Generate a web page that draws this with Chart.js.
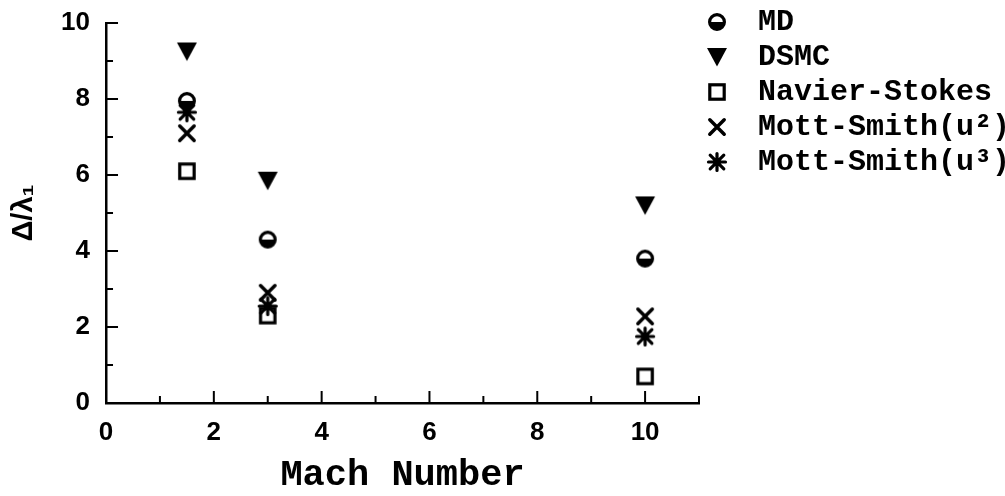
<!DOCTYPE html>
<html>
<head>
<meta charset="utf-8">
<script src="https://cdn.jsdelivr.net/npm/chart.js@4.4.1/dist/chart.umd.min.js"></script>
<style>
  html, body { margin: 0; padding: 0; background: #fff; }
  #wrap { width: 1005px; height: 496px; }
</style>
</head>
<body>
<div id="wrap"><canvas id="c"></canvas></div>
<script>
// Shock thickness versus Mach number for several methods
const machNumbers = [1.5, 3, 10];
const seriesNames = ['MD', 'DSMC', 'Navier-Stokes', 'Mott-Smith(u\u00B2)', 'Mott-Smith(u\u00B3)'];
const mdValues = [7.95, 4.3, 3.8];
const dsmcValues = [9.25, 5.85, 5.2];
const navierStokesValues = [6.1, 2.3, 0.7];
const mottSmithU2Values = [7.1, 2.9, 2.28];
const mottSmithU3Values = [7.65, 2.55, 1.75];

// Tick positions: labelled majors, unlabelled minors
const xMajorTicks = [0, 2, 4, 6, 8, 10];
const xMinorTicks = [1, 3, 5, 7, 9, 11];
const yMajorTicks = [0, 2, 4, 6, 8, 10];
const yMinorTicks = [1, 3, 5, 7, 9];

// Marker glyphs drawn on small canvases (shift moves the glyph off-centre)
function makeMarker(kind, shift) {
  const size = 26;
  const w = size + 2 * Math.abs(shift);
  const c = document.createElement('canvas');
  c.width = w; c.height = size;
  const g = c.getContext('2d');
  const cx = w / 2 + shift, cy = size / 2;
  g.strokeStyle = '#000'; g.fillStyle = '#000';
  if (kind === 'half') {
    const r = 7.4;
    g.beginPath(); g.arc(cx, cy, r, 0, 2 * Math.PI); g.fillStyle = '#fff'; g.fill();
    g.beginPath(); g.arc(cx, cy, r, 0, Math.PI); g.closePath(); g.fillStyle = '#000'; g.fill();
    g.lineWidth = 3.2; g.beginPath(); g.arc(cx, cy, r, 0, 2 * Math.PI); g.stroke();
  } else if (kind === 'tri') {
    g.beginPath();
    g.moveTo(cx - 10, cy - 9); g.lineTo(cx + 10, cy - 9); g.lineTo(cx, cy + 9.5);
    g.closePath(); g.fill();
  } else if (kind === 'square') {
    g.lineWidth = 3.2;
    g.strokeRect(cx - 7.2, cy - 7.2, 14.4, 14.4);
  } else if (kind === 'x') {
    g.lineWidth = 3.5; g.lineCap = 'round';
    g.beginPath();
    g.moveTo(cx - 7.2, cy - 7.2); g.lineTo(cx + 7.2, cy + 7.2);
    g.moveTo(cx + 7.2, cy - 7.2); g.lineTo(cx - 7.2, cy + 7.2);
    g.stroke();
  } else if (kind === 'star') {
    g.lineWidth = 3.2; g.lineCap = 'round';
    g.beginPath();
    g.moveTo(cx, cy - 8.5); g.lineTo(cx, cy + 8.5);
    g.moveTo(cx - 8.5, cy); g.lineTo(cx + 8.5, cy);
    g.moveTo(cx - 6.8, cy - 6.8); g.lineTo(cx + 6.8, cy + 6.8);
    g.moveTo(cx + 6.8, cy - 6.8); g.lineTo(cx - 6.8, cy + 6.8);
    g.stroke();
  }
  return c;
}

const markerKinds = ['half', 'tri', 'square', 'x', 'star'];
const plotMarkers = markerKinds.map(k => makeMarker(k, 0));
const legendMarkers = markerKinds.map(k => makeMarker(k, -6.5));
const seriesValues = [mdValues, dsmcValues, navierStokesValues, mottSmithU2Values, mottSmithU3Values];

const datasets = seriesNames.map((name, i) => ({
  label: name,
  data: machNumbers.map((m, j) => ({ x: m, y: seriesValues[i][j] })),
  pointStyle: plotMarkers[i],
  pointRadius: 9,
  pointHoverRadius: 9,
  showLine: false,
  borderColor: '#000',
  backgroundColor: '#000'
}));

// Inward tick marks on both axes, major longer than minor
const innerTicks = {
  id: 'innerTicks',
  beforeDatasetsDraw(chart) {
    const { ctx, chartArea, scales } = chart;
    const xs = scales.x, ys = scales.y;
    ctx.save();
    ctx.strokeStyle = '#000';
    ctx.lineWidth = 2;
    ctx.beginPath();
    const xMark = (vals, len) => vals.forEach(v => {
      const p = xs.getPixelForValue(v);
      ctx.moveTo(p, chartArea.bottom); ctx.lineTo(p, chartArea.bottom - len);
    });
    const yMark = (vals, len) => vals.forEach(v => {
      const p = ys.getPixelForValue(v);
      ctx.moveTo(chartArea.left, p); ctx.lineTo(chartArea.left + len, p);
    });
    xMark(xMajorTicks, 12); xMark(xMinorTicks, 7);
    yMark(yMajorTicks, 12); yMark(yMinorTicks, 7);
    ctx.stroke();
    ctx.restore();
  }
};

const tickFont = { family: 'Liberation Sans', size: 26, weight: 'bold' };

new Chart(document.getElementById('c'), {
  type: 'scatter',
  data: { datasets },
  plugins: [innerTicks],
  options: {
    responsive: true,
    maintainAspectRatio: false,
    animation: false,
    layout: { padding: { top: 2, left: 4, right: 0, bottom: 3 } },
    plugins: {
      tooltip: { enabled: false },
      legend: {
        position: 'right',
        align: 'start',
        maxWidth: 306,
        labels: {
          usePointStyle: true,
          pointStyleWidth: 39,
          padding: 5,
          color: '#000',
          font: { family: 'Liberation Mono', size: 30, weight: 'bold' },
          generateLabels(chart) {
            const items = Chart.defaults.plugins.legend.labels.generateLabels(chart);
            items.forEach((it, i) => { it.pointStyle = legendMarkers[i]; it.fontColor = '#000'; });
            return items;
          }
        }
      }
    },
    scales: {
      x: {
        type: 'linear',
        min: 0,
        max: 11,
        ticks: { stepSize: 2, includeBounds: false, padding: 15, color: '#000', font: Object.assign({}, tickFont, { lineHeight: 30 / 26 }) },
        grid: { display: false, drawTicks: false },
        border: { display: true, color: '#000', width: 2.5 },
        title: {
          display: true,
          text: 'Mach Number',
          color: '#000',
          font: { family: 'Liberation Mono', size: 37, weight: 'bold', lineHeight: 25 / 37 },
          padding: { top: 0, bottom: 5 }
        }
      },
      y: {
        type: 'linear',
        min: 0,
        max: 10,
        ticks: { stepSize: 2, padding: 16, color: '#000', font: Object.assign({}, tickFont, { lineHeight: 14 / 26 }) },
        grid: { display: false, drawTicks: false },
        border: { display: true, color: '#000', width: 2.5 },
        title: {
          display: true,
          text: '\u0394/\u03BB\u2081',
          color: '#000',
          font: { family: 'Liberation Sans', size: 29, weight: 'bold' },
          padding: { top: 2.6, bottom: 3.7 }
        }
      }
    }
  }
});
</script>
</body>
</html>
